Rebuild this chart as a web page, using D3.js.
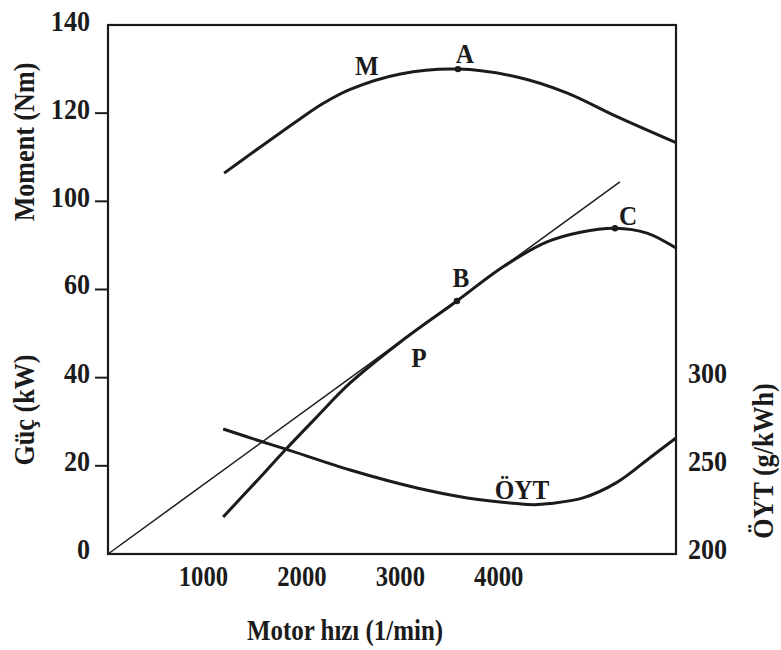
<!DOCTYPE html>
<html>
<head>
<meta charset="utf-8">
<script src="https://cdn.jsdelivr.net/npm/d3@7"></script>
<style>
  html, body { margin: 0; padding: 0; background: #ffffff; }
  svg { display: block; }
  text { font-family: "Liberation Serif", "DejaVu Serif", serif; font-weight: bold; fill: #1b1b1b; }
</style>
</head>
<body>
<svg id="chart" width="781" height="650"></svg>
<script>
// ---- data ----
const rpmTicks = [1000, 2000, 3000, 4000];
const powerTicks = [0, 20, 40, 60];
const momentTicks = [100, 120, 140];
const oytTicks = [200, 250, 300];

const momentRpm = [1180, 1440, 1950, 2200, 2460, 2970, 3555, 4155, 4660, 5170, 5770];
const momentNm  = [106.4, 110.6, 118.7, 122.4, 125.4, 128.9, 130.0, 128.2, 124.6, 119.2, 113.3];

const powerRpm = [1170, 1500, 1800, 2100, 2460, 2970, 3545, 4010, 4460, 4800, 5150, 5475, 5770];
const powerKw  = [8.4, 16.3, 23.6, 30.6, 38.8, 48.1, 57.4, 65.1, 70.8, 73.0, 73.9, 72.8, 69.4];

const oytRpm = [1170, 1575, 1800, 2460, 3140, 3650, 4155, 4330, 4490, 4825, 5170, 5505, 5770];
const oytVal = [270.9, 263.5, 259.6, 247.6, 237.4, 231.8, 228.6, 228.0, 228.6, 231.8, 240.6, 254.6, 265.8];

const tangentRpm = [0, 5200];
const tangentKw  = [0, 84.4];

const pointNames = ["A", "B", "C"];
const pointRpm   = [3555, 3545, 5150];
const pointVal   = [130.0, 57.4, 73.9];
const pointAxis  = ["moment", "power", "power"];

// ---- scales ----
const step = 88.17;
const x = d3.scaleLinear().domain([0, 5770]).range([108, 676]);
const yPower  = d3.scaleLinear().domain([0, 60]).range([554, 554 - 3 * step]);
const yMoment = d3.scaleLinear().domain([100, 140]).range([554 - 4 * step, 25]);
const yOyt    = d3.scaleLinear().domain([200, 300]).range([554, 554 - 2 * step]);
const yFor = { moment: yMoment, power: yPower };

const svg = d3.select("#chart");
const ink = "#1b1b1b";

function txt(s, px, py, opt = {}) {
  return svg.append("text")
    .attr("transform", `translate(${px},${py}) rotate(${opt.rot || 0}) scale(${opt.sx || 0.9},1)`)
    .attr("text-anchor", opt.anchor || "middle")
    .style("font-size", (opt.size || 28) + "px")
    .text(s);
}

// frame
svg.append("rect")
  .attr("x", x(0)).attr("y", yMoment(140))
  .attr("width", x(5770) - x(0)).attr("height", yPower(0) - yMoment(140))
  .attr("fill", "none").attr("stroke", ink).attr("stroke-width", 2.2);

// left tick marks
const tickYs = powerTicks.filter(v => v > 0).map(v => yPower(v))
  .concat(momentTicks.filter(v => v < 140).map(v => yMoment(v)));
svg.selectAll("line.tick").data(tickYs).join("line")
  .attr("x1", x(0) - 13).attr("x2", x(0)).attr("y1", d => d).attr("y2", d => d)
  .attr("stroke", ink).attr("stroke-width", 2);

// left tick labels
powerTicks.forEach(v => txt(String(v), 90, yPower(v) + 5, { anchor: "end", size: 29 }));
momentTicks.forEach(v => txt(String(v), 90, yMoment(v) + 6, { anchor: "end", size: 29 }));
// right tick labels
oytTicks.forEach(v => txt(String(v), 688, yOyt(v) + 5, { anchor: "start", size: 29 }));
// bottom tick labels
rpmTicks.forEach(v => txt(String(v), x(v) - 3, 586, { size: 29, sx: 0.85 }));

// axis titles
txt("Moment (Nm)", 34, 142, { rot: -90, size: 29 });
txt("Güç (kW)", 34, 410, { rot: -90, size: 29 });
txt("ÖYT (g/kWh)", 773, 461, { rot: -90, size: 29 });
txt("Motor hızı (1/min)", 345, 640, { size: 29, sx: 0.86 });

// curves
const lineGen = (xs, ys, ysc) => d3.line().curve(d3.curveCatmullRom.alpha(0.5))
  .x((d, i) => x(xs[i])).y((d, i) => ysc(ys[i]))(xs);

svg.append("path").attr("d", d3.line().x((d, i) => x(tangentRpm[i])).y((d, i) => yPower(tangentKw[i]))(tangentRpm))
  .attr("fill", "none").attr("stroke", ink).attr("stroke-width", 1.5);

svg.append("path").attr("d", lineGen(momentRpm, momentNm, yMoment))
  .attr("fill", "none").attr("stroke", ink).attr("stroke-width", 3);
svg.append("path").attr("d", lineGen(powerRpm, powerKw, yPower))
  .attr("fill", "none").attr("stroke", ink).attr("stroke-width", 3);
svg.append("path").attr("d", lineGen(oytRpm, oytVal, yOyt))
  .attr("fill", "none").attr("stroke", ink).attr("stroke-width", 3);

// points
svg.selectAll("circle.pt").data(pointNames).join("circle")
  .attr("cx", (d, i) => x(pointRpm[i]))
  .attr("cy", (d, i) => yFor[pointAxis[i]](pointVal[i]))
  .attr("r", 3.2).attr("fill", ink);

// point labels
const px = i => x(pointRpm[i]);
const py = i => yFor[pointAxis[i]](pointVal[i]);
txt("A", px(0) + 7, py(0) - 6);
txt("B", px(1) + 4, py(1) - 14);
txt("C", px(2) + 13, py(2) - 3);
txt("M", 367, 75);
txt("P", 419, 367);
txt("ÖYT", 522, 499);
</script>
</body>
</html>
